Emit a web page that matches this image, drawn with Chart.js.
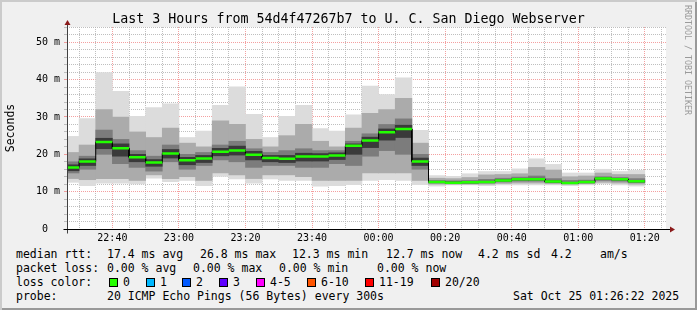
<!DOCTYPE html>
<html>
<head>
<meta charset="utf-8">
<script src="https://cdn.jsdelivr.net/npm/chart.js@4.4.1/dist/chart.umd.min.js"></script>
<style>
  html, body { margin: 0; padding: 0; background: #fff; }
  #frame {
    position: relative; width: 697px; height: 310px; overflow: hidden;
    background: #f0f0f0;
    box-shadow: inset 2px 2px 0 #cbcbcb, inset -2px -2px 0 #999999;
    font-family: "DejaVu Sans Mono", monospace; color: #000;
  }
  #plot { position: absolute; left: 0; top: 0; }
  .t { position: absolute; white-space: pre; font-size: 11.5px; line-height: 14px; }
  #title { position: absolute; left: 0; top: 11px; width: 697px; text-align: center; font-size: 13.3px; line-height: 16px; white-space: pre; }
  #credit { position: absolute; left: 683px; top: 5px; writing-mode: vertical-rl; font-size: 8.3px; line-height: 10px; color: #9a9a9a; white-space: pre; }
  .box { position: absolute; width: 7px; height: 7px; border: 1px solid #000; }
</style>
</head>
<body>
<div id="frame">
  <canvas id="plot" width="697" height="246"></canvas>
  <div id="title">Last 3 Hours from 54d4f47267b7 to U. C. San Diego Webserver</div>
  <div id="credit">RRDTOOL / TOBI OETIKER</div>

  <div class="t" style="left:16px;top:247px">median rtt:</div>
  <div class="t" style="left:107px;top:247px">17.4 ms avg</div>
  <div class="t" style="left:200px;top:247px">26.8 ms max</div>
  <div class="t" style="left:292px;top:247px">12.3 ms min</div>
  <div class="t" style="left:386px;top:247px">12.7 ms now</div>
  <div class="t" style="left:478px;top:247px">4.2 ms sd</div>
  <div class="t" style="left:551px;top:247px">4.2</div>
  <div class="t" style="left:600px;top:247px">am/s</div>

  <div class="t" style="left:16px;top:261px">packet loss:</div>
  <div class="t" style="left:107px;top:261px">0.00 % avg</div>
  <div class="t" style="left:193px;top:261px">0.00 % max</div>
  <div class="t" style="left:279px;top:261px">0.00 % min</div>
  <div class="t" style="left:377px;top:261px">0.00 % now</div>

  <div class="t" style="left:16px;top:275px">loss color:</div>
  <div id="lossLegend"></div>

  <div class="t" style="left:16px;top:289px">probe:</div>
  <div class="t" style="left:107px;top:289px">20 ICMP Echo Pings (56 Bytes) every 300s</div>
  <div class="t" style="left:513px;top:289px">Sat Oct 25 01:26:22 2025</div>
</div>

<script>
// 5 minute intervals, start time of each slot
const intervalStart = [
  '22:25', '22:30', '22:35', '22:40', '22:45', '22:50', '22:55',
  '23:00', '23:05', '23:10', '23:15', '23:20', '23:25', '23:30', '23:35', '23:40', '23:45', '23:50', '23:55',
  '00:00', '00:05', '00:10', '00:15', '00:20', '00:25', '00:30', '00:35', '00:40', '00:45', '00:50', '00:55',
  '01:00', '01:05', '01:10', '01:15',
];

// rtt in ms
const medianRtt = [16.5, 18.1, 23.3, 21.6, 19.2, 17.8, 20.2, 18.4, 18.9, 20.7, 21.0, 19.9, 19.0, 18.8, 19.4, 19.4, 19.7, 22.3,
  23.7, 25.9, 26.8, 18.1, 12.6, 12.4, 12.5, 12.6, 13.0, 13.3, 13.3, 12.7, 12.3, 12.6, 13.5, 13.3, 12.8];
const minRtt = [12.5, 11.6, 12.3, 12.3, 12.1, 13.6, 12.7, 13.0, 11.6, 14.1, 13.4, 12.3, 13.4, 13.0, 13.0, 11.5, 11.6, 11.9,
  13.0, 13.2, 13.0, 11.9, 11.5, 11.8, 11.8, 11.6, 11.8, 11.8, 11.8, 11.8, 11.6, 11.8, 12.1, 11.8, 11.5];
const maxRtt = [24.8, 29.6, 41.9, 36.9, 30.2, 32.5, 33.5, 24.5, 26.2, 33.1, 38.1, 30.7, 24.5, 30.2, 33.1, 26.9, 26.2, 30.6,
  38.3, 36.0, 40.5, 26.4, 14.3, 14.1, 14.8, 15.4, 15.4, 16.1, 18.8, 17.3, 15.0, 15.0, 16.0, 15.4, 15.7];
const p10Rtt = [13.5, 13.2, 13.5, 13.5, 13.0, 14.5, 13.5, 14.0, 13.0, 15.0, 14.5, 13.5, 14.5, 14.5, 14.0, 13.0, 13.0, 13.0,
  15.0, 15.0, 15.0, 13.0, 12.0, 12.0, 12.0, 12.0, 12.2, 12.3, 12.3, 12.1, 12.0, 12.1, 12.5, 12.3, 12.0];
const p90Rtt = [20.5, 22.5, 32.0, 30.0, 26.0, 24.5, 27.0, 23.0, 22.0, 29.0, 28.0, 24.0, 22.0, 25.0, 28.0, 23.5, 22.0, 27.0,
  31.0, 32.0, 35.0, 23.0, 13.6, 13.5, 13.8, 14.5, 14.6, 14.8, 16.5, 15.8, 14.0, 14.2, 15.0, 14.6, 14.6];
const p25Rtt = [15.0, 16.0, 20.0, 17.5, 16.5, 15.5, 18.0, 16.0, 17.0, 18.5, 18.0, 16.5, 17.0, 17.0, 16.5, 16.5, 17.5, 17.0,
  19.5, 21.0, 20.0, 16.0, 12.3, 12.2, 12.2, 12.3, 12.6, 12.8, 12.8, 12.4, 12.2, 12.3, 13.0, 12.8, 12.4];
const p75Rtt = [18.0, 19.5, 26.5, 24.0, 21.0, 19.5, 22.5, 20.0, 20.5, 22.5, 23.5, 21.5, 20.5, 21.0, 21.5, 21.0, 21.0, 23.5,
  25.5, 28.0, 29.5, 20.0, 13.0, 12.9, 13.0, 13.3, 13.6, 13.9, 14.2, 13.5, 13.0, 13.1, 14.0, 13.8, 13.5];
const p40Rtt = [15.6, 17.0, 21.5, 19.5, 18.0, 16.8, 19.0, 17.2, 17.8, 19.6, 19.8, 18.5, 18.0, 17.8, 18.2, 18.2, 18.6, 20.0,
  21.8, 23.8, 24.5, 17.0, 12.45, 12.3, 12.35, 12.45, 12.8, 13.1, 13.1, 12.55, 12.15, 12.45, 13.3, 13.1, 12.6];
const p60Rtt = [17.2, 18.8, 24.3, 22.8, 20.0, 18.6, 21.3, 19.2, 19.7, 21.6, 22.2, 20.8, 19.7, 19.7, 20.3, 20.2, 20.4, 22.8,
  24.6, 26.8, 27.8, 19.0, 12.75, 12.6, 12.65, 12.8, 13.2, 13.5, 13.6, 12.9, 12.5, 12.8, 13.7, 13.5, 13.0];

const lossLabels = ['0', '1', '2', '3', '4-5', '6-10', '11-19', '20/20'];
const lossColors = ['#26ff00', '#00b8ff', '#0059ff', '#5e00ff', '#ff00ff', '#ff5500', '#ff0000', '#a10000'];

const stepMinutes = 5;
const windowStart = '22:26:22';
const windowEnd = '01:26:22';

/** minutes since 22:00, times after midnight roll over */
function toMinutes(hms) {
  const [h, m, s = 0] = hms.split(':').map(Number);
  let t = h * 60 + m + s / 60;
  if (h < 12) t += 24 * 60;
  return t - 22 * 60;
}

function fmtTime(v) {
  const total = 22 * 60 + v;
  const h = Math.floor(total / 60) % 24;
  const m = total % 60;
  return String(h).padStart(2, '0') + ':' + String(m).padStart(2, '0');
}

const xStart = intervalStart.map(toMinutes);
const xMid = xStart.map((x) => x + stepMinutes / 2);

function band(lo, hi) {
  return xMid.map((x, i) => ({x: x, y: [lo[i], hi[i]]}));
}

const medianSteps = [];
const medianGreen = [];
xStart.forEach((x, i) => {
  medianSteps.push({x: x, y: medianRtt[i]}, {x: x + stepMinutes, y: medianRtt[i]});
  medianGreen.push({x: x, y: medianRtt[i]}, {x: x + stepMinutes, y: medianRtt[i]}, {x: x + stepMinutes, y: null});
});

// loss color legend
const legendHost = document.getElementById('lossLegend');
const boxX = [109, 146, 182, 219, 256, 307, 365, 431];
lossLabels.forEach((label, i) => {
  const b = document.createElement('div');
  b.className = 'box';
  b.style.left = boxX[i] + 'px';
  b.style.top = '278px';
  b.style.background = lossColors[i];
  legendHost.appendChild(b);
  const t = document.createElement('div');
  t.className = 't';
  t.style.left = (boxX[i] + 14) + 'px';
  t.style.top = '275px';
  t.textContent = label;
  legendHost.appendChild(t);
});

const minorGrid = 'rgba(180,180,180,0.85)';
const majorGrid = 'rgba(240,120,120,0.7)';
const tickFont = {family: 'DejaVu Sans Mono', size: 10};

const rrdFrame = {
  id: 'rrdFrame',
  beforeDraw(chart) {
    const {ctx, chartArea: a} = chart;
    ctx.save();
    ctx.fillStyle = '#ffffff';
    ctx.fillRect(a.left, a.top, a.right - a.left, a.bottom - a.top);
    ctx.restore();
  },
  afterDraw(chart) {
    const {ctx, chartArea: a} = chart;
    const x0 = Math.round(a.left) + 0.5;
    const y0 = Math.round(a.bottom) + 0.5;
    ctx.save();
    ctx.lineWidth = 1;
    ctx.strokeStyle = '#404040';
    ctx.beginPath();
    ctx.moveTo(x0, y0 + 4);
    ctx.lineTo(x0, a.top - 4);
    ctx.stroke();
    ctx.strokeStyle = '#000';
    ctx.beginPath();
    ctx.moveTo(x0 - 4, y0);
    ctx.lineTo(a.right + 4, y0);
    ctx.stroke();
    ctx.fillStyle = '#8b1a1a';
    ctx.beginPath();
    ctx.moveTo(x0, a.top - 7);
    ctx.lineTo(x0 - 3, a.top - 2);
    ctx.lineTo(x0 + 3, a.top - 2);
    ctx.closePath();
    ctx.fill();
    ctx.beginPath();
    ctx.moveTo(a.right + 9, y0);
    ctx.lineTo(a.right + 4, y0 - 3);
    ctx.lineTo(a.right + 4, y0 + 3);
    ctx.closePath();
    ctx.fill();
    ctx.restore();
  },
};

const barOpts = {barPercentage: 1, categoryPercentage: 1, grouped: false, clip: 0, borderWidth: 0};

new Chart(document.getElementById('plot'), {
  type: 'bar',
  data: {
    datasets: [
      {type: 'line', data: medianGreen, borderColor: '#22ff00', borderWidth: 2.5, pointRadius: 0,
        tension: 0, spanGaps: false, borderCapStyle: 'butt', clip: 0, order: 0},
      {type: 'line', data: medianSteps, borderColor: '#000000', borderWidth: 1, pointRadius: 0,
        tension: 0, borderJoinStyle: 'miter', clip: 0, order: 1},
      {data: band(p40Rtt, p60Rtt), backgroundColor: '#3a3a3a', order: 2, ...barOpts},
      {data: band(p25Rtt, p75Rtt), backgroundColor: '#7c7c7c', order: 3, ...barOpts},
      {data: band(p10Rtt, p90Rtt), backgroundColor: '#ababab', order: 4, ...barOpts},
      {data: band(minRtt, maxRtt), backgroundColor: '#dcdcdc', order: 5, ...barOpts},
    ],
  },
  options: {
    responsive: false,
    animation: false,
    devicePixelRatio: 1,
    layout: {padding: {left: 0, top: 27, right: 31, bottom: 0}},
    plugins: {legend: {display: false}, tooltip: {enabled: false}},
    scales: {
      x: {
        type: 'linear',
        min: toMinutes(windowStart),
        max: toMinutes(windowEnd),
        offset: false,
        z: 1,
        afterBuildTicks: (scale) => {
          const ticks = [];
          for (let v = Math.ceil(scale.min / stepMinutes) * stepMinutes; v <= scale.max; v += stepMinutes) ticks.push({value: v});
          scale.ticks = ticks;
        },
        afterFit: (scale) => { scale.height = 17; },
        grid: {
          offset: false, drawTicks: false, lineWidth: 1,
          color: (c) => (c.tick && c.tick.value % 20 === 0 ? majorGrid : minorGrid),
        },
        border: {display: false, dash: [1, 1]},
        ticks: {
          autoSkip: false, maxRotation: 0, padding: 3, color: '#000', font: tickFont,
          callback: (v) => (v % 20 === 0 ? fmtTime(v) : ''),
        },
      },
      y: {
        min: 0,
        max: 54.1,
        z: 1,
        afterBuildTicks: (scale) => {
          const ticks = [];
          for (let v = 0; v <= scale.max; v += 2) ticks.push({value: v});
          scale.ticks = ticks;
        },
        afterFit: (scale) => { scale.width = 67; },
        grid: {
          drawTicks: true, tickLength: 3, lineWidth: 1,
          color: (c) => (c.tick && c.tick.value % 10 === 0 ? majorGrid : minorGrid),
          tickColor: (c) => (c.tick && c.tick.value % 10 === 0 ? majorGrid : minorGrid),
        },
        border: {display: false, dash: [1, 1]},
        ticks: {
          autoSkip: false, padding: 4, color: '#000', font: tickFont,
          // rrdtool pads the unit column, so the bare zero sits further left
          callback: (v) => (v % 10 === 0 ? (v === 0 ? '0\u00a0\u00a0' : v + ' m') : ''),
        },
        title: {
          display: true, text: 'Seconds', color: '#000',
          font: {family: 'DejaVu Sans Mono', size: 11.5}, padding: {top: 4, bottom: 4},
        },
      },
    },
  },
  plugins: [rrdFrame],
});
</script>
</body>
</html>
